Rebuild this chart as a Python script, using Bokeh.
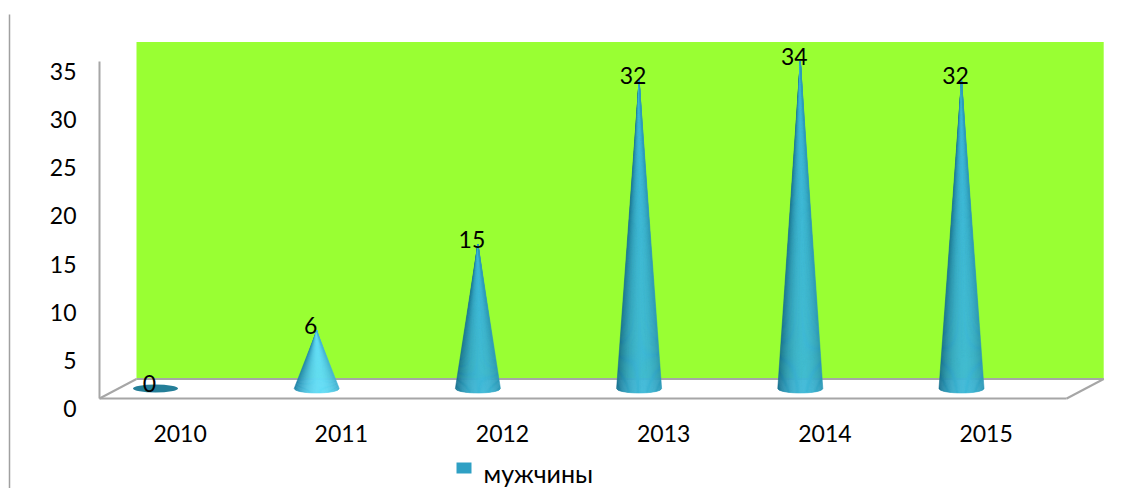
import numpy as np
from bokeh.plotting import figure
from bokeh.models import Range1d
from bokeh.core.properties import value
from bokeh.embed import file_html
from bokeh.resources import INLINE

# chart data
years = ["2010", "2011", "2012", "2013", "2014", "2015"]
men = [0, 6, 15, 32, 34, 32]
y_ticks = [0, 5, 10, 15, 20, 25, 30, 35]
series_name = "мужчины"

# page / scale geometry (pixels)
W, H = 1146, 488
X0, SX = 179.6, 161.2   # centre of the first category on the front edge, px per category
Y0, SY = 398.0, 9.63    # value 0 on the front edge, px per unit


def dx(px):
    return px / SX


def dy(px):
    return px / SY


FONT = value("Lato")
GRAY = "#A6A6A6"
WALL = "#99FF33"
KEY = "#2FA0C4"
LABEL_SIZE = "23px"

p = figure(width=W, height=H, output_backend="svg", toolbar_location=None,
           x_range=Range1d(-X0 / SX, (W - X0) / SX),
           y_range=Range1d((Y0 - H) / SY, Y0 / SY),
           x_axis_location=None, y_axis_location=None, min_border=0)
p.grid.visible = False
p.outline_line_color = None
p.background_fill_color = "white"
p.border_fill_color = "white"

n = len(years)
x_lo, x_hi = -0.5, n - 0.5
y_top = y_ticks[-1]
bx, by = dx(37), dy(19.5)     # depth offset of the back wall
mx, my = dx(-24.6), dy(10)    # depth offset of the cone row

# back wall and floor
p.quad(left=x_lo + bx, right=x_hi + bx, bottom=by, top=y_top + by,
       fill_color=WALL, line_color=None)
p.patch([x_lo, x_hi, x_hi + bx, x_lo + bx], [0, 0, by, by],
        fill_color="white", line_color=None)
p.multi_line(
    xs=[[x_lo, x_hi], [x_lo, x_lo + bx], [x_hi, x_hi + bx], [x_lo + bx, x_hi + bx],
        [x_lo, x_lo]],
    ys=[[0, 0], [0, by], [0, by], [by, by], [0, y_top]],
    line_color=GRAY, line_width=2)

# outer frame line on the left
p.segment(x0=[dx(9 - X0)], y0=[dy(Y0 - 14)], x1=[dx(9 - X0)], y1=[dy(Y0 - H)],
          line_color="#A0A0A0", line_width=1.5)

# cones, shaded in vertical slices
r, e = dx(22.5), dy(4.5)
cone_dark = [(30, 120, 150), (30, 128, 165), (24, 112, 142), (24, 112, 142),
             (24, 112, 142), (24, 112, 142)]
cone_light = [(50, 150, 175), (98, 220, 245), (62, 184, 214), (62, 184, 214),
              (62, 184, 214), (62, 184, 214)]


def mix(c0, c1, t):
    return "#%02x%02x%02x" % tuple(int(round(a + (b - a) * t)) for a, b in zip(c0, c1))


us = np.linspace(-1, 1, 41)
xs, ys, cols = [], [], []
for i, v in enumerate(men):
    if v <= 0:
        continue
    cx, base, apex = i + mx, my, v + my
    for u0, u1 in zip(us[:-1], us[1:]):
        um = 0.5 * (u0 + u1)
        t = max(0.0, 1 - ((um - 0.18) / 1.18) ** 2) ** 0.9
        xs.append([cx, cx + u0 * r, cx + u1 * r])
        ys.append([apex, base - e * np.sqrt(max(0, 1 - u0 ** 2)),
                   base - e * np.sqrt(max(0, 1 - u1 ** 2))])
        cols.append(mix(cone_dark[i], cone_light[i], t))
p.patches(xs, ys, fill_color=cols, line_color=cols, line_width=0.6)

# zero values lie flat as a disc
zx = [i + mx for i, v in enumerate(men) if v <= 0]
p.ellipse(x=zx, y=[my] * len(zx), width=2 * r, height=dy(8),
          fill_color="#247E98", line_color=None)

# value labels at the cone tips
p.text(x=[i + mx for i in range(n)], y=[v + my for v in men], text=[str(v) for v in men],
       text_align="center", text_baseline="alphabetic", x_offset=-6, y_offset=-5,
       text_font=FONT, text_font_size=LABEL_SIZE, text_color="black")

# value axis labels
p.text(x=[x_lo + dx(-23)] * len(y_ticks), y=y_ticks, text=[str(t) for t in y_ticks],
       text_align="right", text_baseline="middle", y_offset=10,
       text_font=FONT, text_font_size=LABEL_SIZE, text_color="black")

# category labels
p.text(x=list(range(n)), y=[0] * n, text=years, text_align="center",
       text_baseline="middle", y_offset=35,
       text_font=FONT, text_font_size=LABEL_SIZE, text_color="black")

# legend below the categories: key square and series name
legend_x = dx(463.5 - X0)
p.quad(left=[legend_x - dx(7.5)], right=[legend_x + dx(7.5)],
       top=[dy(Y0 - 462)], bottom=[dy(Y0 - 473)], fill_color=KEY, line_color=None)
p.text(x=[dx(483 - X0)], y=[dy(Y0 - 472)], text=[series_name], text_align="left",
       text_baseline="middle", text_font=FONT, text_font_size="25px",
       text_color="black")

open("out.html", "w").write(file_html(p, INLINE))
